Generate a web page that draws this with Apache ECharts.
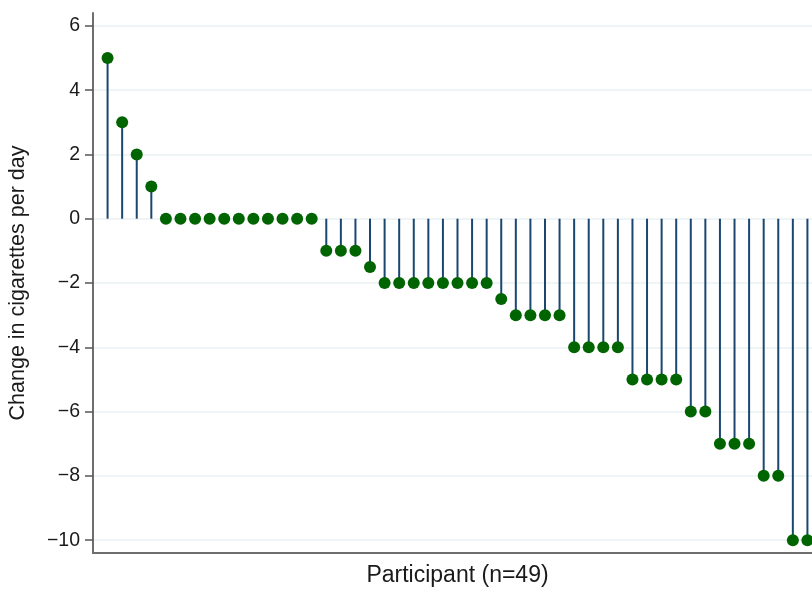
<!DOCTYPE html>
<html><head><meta charset="utf-8">
<script src="https://cdn.jsdelivr.net/npm/echarts@6/dist/echarts.min.js"></script>
<style>html,body{margin:0;padding:0;background:#fff}#c{width:812px;height:590px}</style>
</head><body><div id="c"></div>
<script>
const participants = Array.from({length:49},(_,i)=>i+1);
const changes = [5,3,2,1,
  0,0,0,0,0,0,0,0,0,0,0,
  -1,-1,-1,-1.5,
  -2,-2,-2,-2,-2,-2,-2,-2,
  -2.5,
  -3,-3,-3,-3,
  -4,-4,-4,-4,
  -5,-5,-5,-5,
  -6,-6,
  -7,-7,-7,
  -8,-8,
  -10,-10];
const yTicks = [-10,-8,-6,-4,-2,0,2,4,6];
const pts = participants.map((p,i)=>[p,changes[i]]);
const chart = echarts.init(document.getElementById('c'));
chart.setOption({
  animation:false,
  backgroundColor:'#fff',
  grid:{left:93, top:13, width:729, height:540, outerBoundsMode:'none', containLabel:false},
  xAxis:{type:'value', min:0, max:50, name:'Participant (n=49)', nameLocation:'middle', nameGap:23,
    nameTextStyle:{fontFamily:'Liberation Sans', fontSize:23, color:'#1a1a1a', verticalAlign:'middle'},
    axisLine:{show:true, onZero:false, lineStyle:{color:'#6e6e6e', width:2}},
    axisTick:{show:false}, axisLabel:{show:false}, splitLine:{show:false}},
  yAxis:{type:'value', min:-10.4, max:6.4, interval:2,
    name:'Change in cigarettes per day', nameLocation:'middle', nameGap:64,
    nameTextStyle:{fontFamily:'Liberation Sans', fontSize:21.5, color:'#1a1a1a'},
    axisLine:{show:true, onZero:false, lineStyle:{color:'#6e6e6e', width:2}},
    axisTick:{show:true, length:8, lineStyle:{color:'#555', width:1.5},
      customValues: yTicks},
    axisLabel:{fontFamily:'Liberation Sans', fontSize:19.5, color:'#1a1a1a', margin:13,
      customValues: yTicks,
      formatter:v=> (v<0?'\u2212'+Math.abs(v):String(v))},
    splitLine:{show:true, lineStyle:{color:'#eaf2f3', width:1.5}}},
  series:[
    {type:'custom', data:pts, clip:true, renderItem:(params,api)=>{
      const x=api.value(0), y=api.value(1);
      const a=api.coord([x,0]), b=api.coord([x,y]);
      return {type:'line', shape:{x1:a[0],y1:a[1],x2:b[0],y2:b[1]},
        style:{stroke:'#1a476f', lineWidth:2}};
    }},
    {type:'scatter', data:pts, symbol:'circle', symbolSize:12,
      itemStyle:{color:'#006400', opacity:1}, z:5}
  ]
});
</script></body></html>
